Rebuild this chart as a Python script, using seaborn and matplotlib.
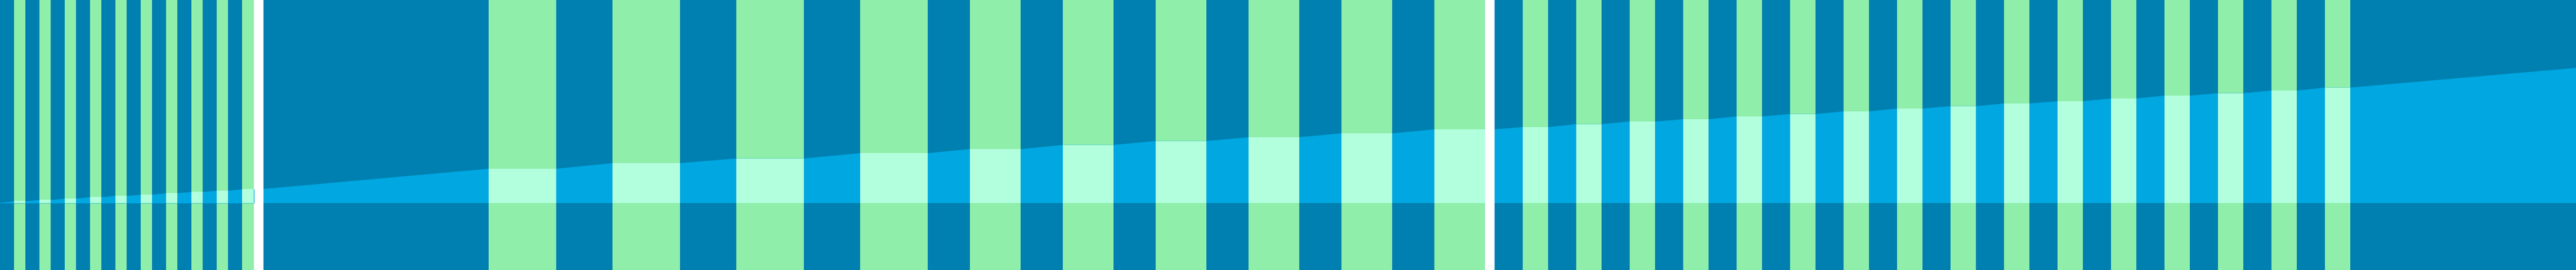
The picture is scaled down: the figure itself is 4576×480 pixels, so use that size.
import numpy as np
import pandas as pd
import seaborn as sns
import matplotlib.pyplot as plt

# colours
dark_blue = '#0080b0'
light_blue = '#00a7e1'
green = '#8feeaa'
mint = '#b2ffde'

# shaded breaks (start, end) and the level the series sits at during each one
band_start = [25, 70, 115, 160, 205, 250, 295, 340, 385, 430,
              867, 1087, 1307, 1527, 1722, 1887, 2052, 2217, 2382, 2547,
              2705, 2800, 2895, 2990, 3085, 3180, 3275, 3370, 3465, 3560,
              3655, 3750, 3845, 3940, 4035, 4130]
band_end = [45, 90, 135, 180, 225, 270, 315, 360, 405, 466,
            987, 1207, 1427, 1647, 1812, 1977, 2142, 2307, 2472, 2654,
            2750, 2845, 2940, 3035, 3130, 3225, 3320, 3415, 3510, 3605,
            3700, 3795, 3890, 3985, 4080, 4175]
band_level = [3.7, 6, 8.3, 11, 13.3, 15.3, 18, 20.3, 22.3, 25,
              61, 71, 79.3, 88.7, 96, 103.3, 110.3, 117, 124, 131,
              135, 140.3, 145, 149, 154, 158.3, 163, 168, 172.3, 177,
              181, 186, 191, 195.3, 200, 205.3]
start_x, start_level = 0, 1
end_x, end_level = 4576, 240.3

# three pieces of the broken x axis
panel_lims = [(0, 451), (467, 2637), (2655, 4576)]
y_lims = (-119, 361)

bands = pd.DataFrame({'start': band_start, 'end': band_end, 'level': band_level})

# the series: rising between breaks, flat during them
xs = [start_x]
ys = [start_level]
for s, e, lv in zip(band_start, band_end, band_level):
    xs += [s, e]
    ys += [lv, lv]
xs.append(end_x)
ys.append(end_level)
series = pd.DataFrame({'x': xs, 'y': ys})

sns.set_theme(style='white')

widths = [b - a for a, b in panel_lims]
gap = (panel_lims[1][0] - panel_lims[0][1] + panel_lims[2][0] - panel_lims[1][1]) / 2
fig, axes = plt.subplots(1, 3, figsize=(45.76, 4.8), dpi=100,
                         gridspec_kw={'width_ratios': widths,
                                      'wspace': gap / np.mean(widths)})
fig.subplots_adjust(left=0, right=1, top=1, bottom=0)
fig.patch.set_facecolor('white')

for ax, lims in zip(axes, panel_lims):
    ax.set_facecolor(dark_blue)
    for _, b in bands.iterrows():
        ax.axvspan(b['start'], b['end'], color=green, lw=0)
    ax.fill_between(series['x'], 0, series['y'], color=light_blue, lw=0)
    ax.bar(bands['start'], bands['level'], width=bands['end'] - bands['start'],
           align='edge', color=mint, lw=0)
    ax.set_xlim(*lims)
    ax.set_ylim(*y_lims)
    ax.set_xticks([])
    ax.set_yticks([])
    sns.despine(ax=ax, left=True, bottom=True)

plt.savefig('out.png', dpi=100)
